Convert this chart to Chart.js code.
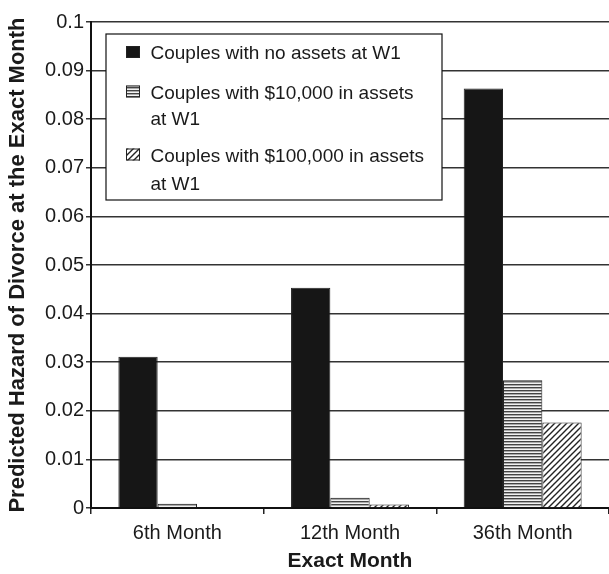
<!DOCTYPE html>
<html>
<head>
<meta charset="utf-8">
<script src="https://cdn.jsdelivr.net/npm/chart.js@4.4.0/dist/chart.umd.min.js"></script>
<style>
  body { margin: 0; background: #fff; }
  #wrap { width: 609px; height: 574px; position: relative; }
</style>
</head>
<body>
<div id="wrap"><canvas id="myChart"></canvas></div>
<script>
const categories = ['6th Month', '12th Month', '36th Month'];
const noAssets = [0.0311, 0.0453, 0.0863];
const tenK = [0.0009, 0.0021, 0.0263];
const hundredK = [0, 0.0007, 0.0176];
const seriesNames = [
  ['Couples with no assets at W1'],
  ['Couples with $10,000 in assets', 'at W1'],
  ['Couples with $100,000 in assets', 'at W1']
];
const yTickLabels = ['0', '0.01', '0.02', '0.03', '0.04', '0.05', '0.06', '0.07', '0.08', '0.09', '0.1'];

const FONT = '"Liberation Sans", Arial, Helvetica, sans-serif';
const INK = '#1a1a1a';

// fill patterns for the two lighter series
const makeStripes = () => {
  const c = document.createElement('canvas');
  c.width = 4; c.height = 3;
  const g = c.getContext('2d');
  g.fillStyle = '#f2f2f2'; g.fillRect(0, 0, 4, 3);
  g.fillStyle = '#444'; g.fillRect(0, 0, 4, 1);
  g.fillStyle = '#aaa'; g.fillRect(0, 1, 4, 1);
  return g.createPattern(c, 'repeat');
};

const makeHatch = () => {
  const c = document.createElement('canvas');
  c.width = 6; c.height = 6;
  const g = c.getContext('2d');
  g.fillStyle = '#fff'; g.fillRect(0, 0, 6, 6);
  g.strokeStyle = '#222'; g.lineWidth = 1.4;
  g.beginPath();
  g.moveTo(0, 6); g.lineTo(6, 0);
  g.moveTo(-3, 3); g.lineTo(3, -3);
  g.moveTo(3, 9); g.lineTo(9, 3);
  g.stroke();
  return g.createPattern(c, 'repeat');
};

const fills = ['#161616', makeStripes(), makeHatch()];

// boxed legend drawn on the canvas, with two-line entries
const boxLegend = {
  id: 'boxLegend',
  afterDatasetsDraw(chart) {
    const ctx = chart.ctx;
    const x = 106, y = 34, w = 336, h = 166;
    const baselines = [[59], [98.5, 125], [161.5, 189.5]];
    ctx.save();
    ctx.fillStyle = '#fff';
    ctx.fillRect(x, y, w, h);
    ctx.strokeStyle = '#111';
    ctx.lineWidth = 1.2;
    ctx.strokeRect(x, y, w, h);
    ctx.font = '19px ' + FONT;
    ctx.textBaseline = 'alphabetic';
    seriesNames.forEach((lines, i) => {
      const b = baselines[i];
      ctx.fillStyle = fills[i];
      ctx.fillRect(126, b[0] - 13, 14, 12);
      ctx.strokeStyle = '#222';
      ctx.lineWidth = 1;
      ctx.strokeRect(126.5, b[0] - 12.5, 13, 11);
      ctx.fillStyle = INK;
      lines.forEach((t, k) => ctx.fillText(t, 150.5, b[k]));
    });
    ctx.restore();
  }
};

const ctx = document.getElementById('myChart');

const chartData = {
  labels: categories,
  datasets: [noAssets, tenK, hundredK].map((vals, i) => ({
    label: seriesNames[i].join(' '),
    data: vals,
    backgroundColor: fills[i],
    borderColor: '#222',
    borderWidth: 1,
    borderSkipped: 'start',
    categoryPercentage: 0.683,
    barPercentage: 1
  }))
};

const chartConfig = {
  type: 'bar',
  data: chartData,
  options: {
    responsive: true,
    maintainAspectRatio: false,
    animation: false,
    layout: { padding: { top: 22, right: 0, left: 0, bottom: 0 } },
    plugins: {
      legend: { display: false },
      tooltip: { enabled: false }
    },
    scales: {
      x: {
        offset: true,
        grid: { offset: true, drawOnChartArea: false, tickLength: 6, color: '#222', lineWidth: 1.5 },
        border: { color: '#111', width: 2 },
        ticks: { color: INK, font: { family: FONT, size: 20 }, padding: 7 },
        title: { display: true, text: 'Exact Month', color: INK, font: { family: FONT, size: 21, weight: 'bold' }, padding: { top: 0, bottom: 0 } },
        afterFit: (s) => { s.height = 66; }
      },
      y: {
        min: 0,
        max: 0.1,
        ticks: {
          stepSize: 0.01,
          color: INK,
          padding: 2,
          font: { family: FONT, size: 20 },
          callback: (v, i) => yTickLabels[i] ?? ''
        },
        grid: { color: '#333', lineWidth: 1.5, tickLength: 5 },
        border: { color: '#111', width: 2 },
        title: { display: true, text: 'Predicted Hazard of Divorce at the Exact Month', color: INK, font: { family: FONT, size: 22, weight: 'bold' }, padding: { top: 5, bottom: 0 } },
        afterFit: (s) => { s.width = 91; }
      }
    }
  },
  plugins: [boxLegend]
};

new Chart(ctx, chartConfig);
</script>
</body>
</html>
